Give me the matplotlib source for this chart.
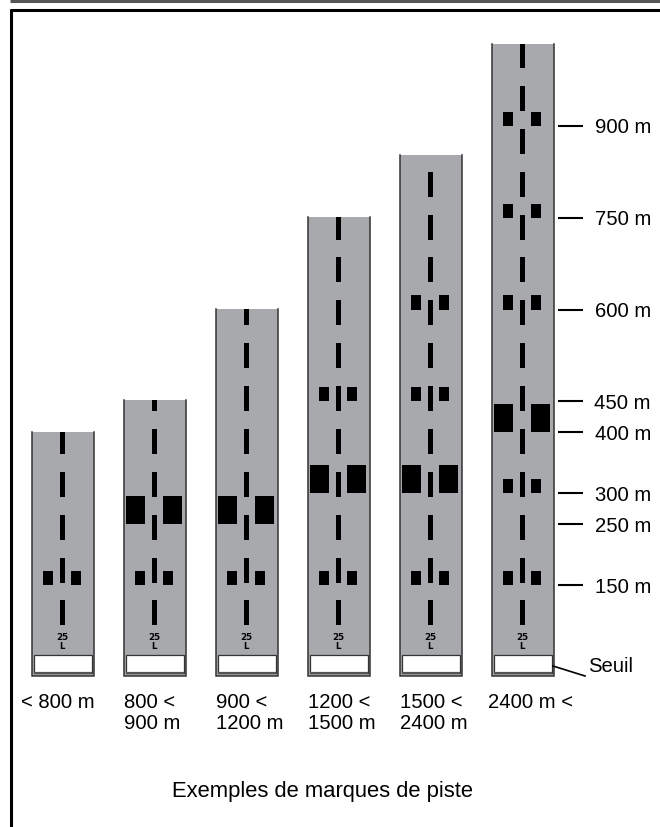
import matplotlib
matplotlib.use('Agg')
from matplotlib import pyplot as plt
from matplotlib.patches import Rectangle

# runway length classes, bottom labels and how far each runway is drawn (m)
classes = ['< 800 m', '800 <\n900 m', '900 <\n1200 m', '1200 <\n1500 m', '1500 <\n2400 m', '2400 m <']
runway_len = [400, 452, 601, 751, 852, 1033]
# distance of the blocks from the runway end (m)
small_blocks = [[150], [150], [150], [150, 450], [150, 450, 600], [150, 300, 600, 750, 900]]
big_blocks = [[], [250], [250], [300], [300], [400]]
# start of each centre line dash (m)
dash_starts = [85, 153, 224, 294, 364, 434, 504, 575, 645, 714, 784, 854, 924, 995]
dash_len = 41
# distance labels on the right
dist_ticks = [150, 250, 300, 400, 450, 600, 750, 900]

SCALE = 0.6125  # pixels per metre
Y0 = 678  # pixel row of the zero distance
GREY = '#a7a9ac'
FONT = 'Liberation Sans'

fig = plt.figure(figsize=(6.6, 8.28), dpi=100)
ax = fig.add_axes([0, 0, 1, 1])
ax.set_xlim(0, 660)
ax.set_ylim(-(828 - Y0) / SCALE, Y0 / SCALE)
ax.axis('off')


def py(row):
    # pixel row to metres, for the things outside the runways
    return (Y0 - row) / SCALE


for i, length in enumerate(runway_len):
    cx = 62.5 + 92 * i
    ax.add_patch(Rectangle((cx - 31, py(677)), 62, length - py(677), fc=GREY, ec='none'))
    # sides and end only, the top stays open
    ax.plot([cx - 31, cx - 31, cx + 31, cx + 31], [length, py(677), py(677), length],
            color='#333333', lw=1.1, solid_joinstyle='miter')
    # threshold box
    ax.add_patch(Rectangle((cx - 29, py(674)), 58, py(656) - py(674), fc='white', ec='#333333', lw=0.9))
    ax.plot([cx - 29, cx + 29], [py(674), py(674)], color='#555555', lw=1.6, solid_capstyle='butt')
    # centre line
    for d in dash_starts:
        if d < length:
            ax.add_patch(Rectangle((cx - 2.5, d), 5, min(dash_len, length - d), fc='black', ec='none'))
    for d in small_blocks[i]:
        ax.add_patch(Rectangle((cx - 19.5, d), 10, 23, fc='black', ec='none'))
        ax.add_patch(Rectangle((cx + 8.5, d), 10, 23, fc='black', ec='none'))
    for d in big_blocks[i]:
        ax.add_patch(Rectangle((cx - 28.5, d), 19, 46, fc='black', ec='none'))
        ax.add_patch(Rectangle((cx + 8.5, d), 19, 46, fc='black', ec='none'))
    ax.text(cx, py(637.5), '25', ha='center', va='center', fontsize=6.3, family='DejaVu Sans', weight='bold')
    ax.text(cx, py(646.5), 'L', ha='center', va='center', fontsize=6.3, family='DejaVu Sans', weight='bold')
    # class label below the runway
    lines = classes[i].split('\n')
    left = [21, 124, 216, 308, 400, 488][i]
    for j, line in enumerate(lines):
        ax.text(left, py(703 + 21 * j), line, ha='left', va='center', fontsize=14.6, family=FONT)

for d in dist_ticks:
    ax.plot([558, 583], [d, d], color='black', lw=1.5, solid_capstyle='butt')
    ax.text(651, d - 2, '%d m' % d, ha='right', va='center', fontsize=14.6, family=FONT)

# threshold leader
ax.plot([553, 585], [py(667), py(677)], color='black', lw=1.2)
ax.text(588, py(667), 'Seuil', ha='left', va='center', fontsize=14.6, family=FONT)

ax.text(322, py(792), 'Exemples de marques de piste', ha='center', va='center', fontsize=15.8, family=FONT)


# page frame
def px_line(x0, y0, x1, y1, color, lw):
    ax.plot([x0, x1], [py(y0), py(y1)], color=color, lw=lw, solid_capstyle='butt')


px_line(9.5, 1.5, 660, 1.5, '#555555', 2.2)
px_line(9.5, 11, 660, 11, 'black', 2.2)
px_line(10.5, 10, 10.5, 828, 'black', 2.2)

plt.savefig('out.png', dpi=100)
